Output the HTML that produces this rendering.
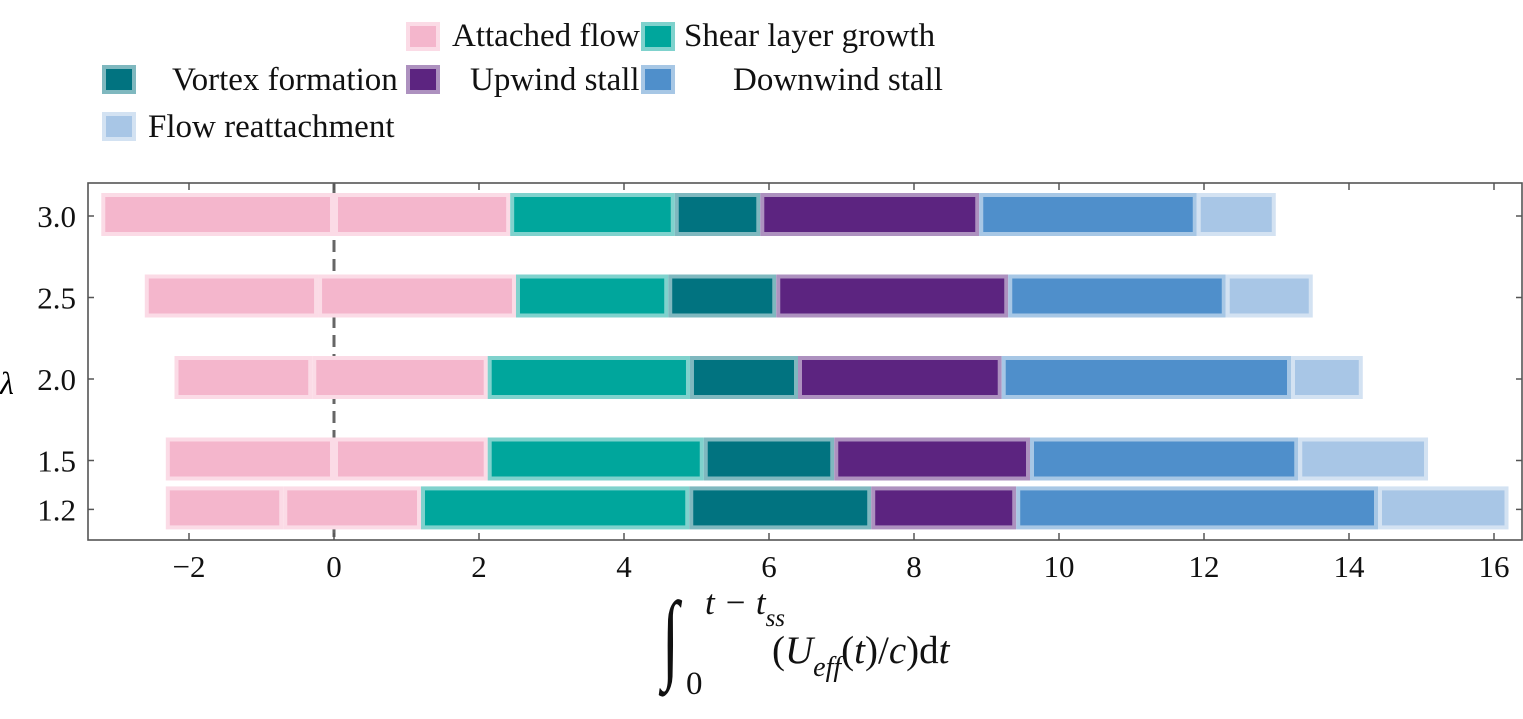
<!DOCTYPE html>
<html><head><meta charset="utf-8"><style>
body{margin:0;background:#fff}
svg{display:block;font-family:"Liberation Serif",serif}
</style></head><body>
<svg id="c" width="1523" height="719" viewBox="0 0 1523 719">
<g id="legend"></g>
<g id="plot"></g>
<text x="0" y="394" font-size="32" font-style="italic">λ</text>
<g fill="#111">
<text x="0" y="0" font-size="62" transform="translate(662,670) scale(1,1.6)">∫</text>
<text x="686" y="694" font-size="33">0</text>
<text x="705" y="614" font-size="35" font-style="italic">t − t<tspan font-size="25" dy="12">ss</tspan></text>
<text x="772" y="663" font-size="39">(<tspan font-style="italic">U</tspan><tspan font-style="italic" font-size="28" dy="13">eff</tspan><tspan dy="-13">(</tspan><tspan font-style="italic">t</tspan>)/<tspan font-style="italic">c</tspan>)d<tspan font-style="italic">t</tspan></text>
</g>
</svg>
<script>
const lambdas=[3.0,2.5,2.0,1.5,1.2];
const starts=[-3.21,-2.61,-2.2,-2.32,-2.32];
const attachedSplit=[0,-0.22,-0.3,0,-0.7];
const shearStart=[2.43,2.51,2.12,2.12,1.2];
const vortexStart=[4.7,4.61,4.91,5.1,4.9];
const upwindStart=[5.88,6.1,6.4,6.9,7.41];
const downwindStart=[8.9,9.3,9.21,9.6,9.41];
const reattachStart=[11.9,12.3,13.2,13.3,14.4];
const ends=[12.99,13.5,14.19,15.09,16.2];
const xTicks=[-2,0,2,4,6,8,10,12,14,16];
const xTickLabels=["−2","0","2","4","6","8","10","12","14","16"];
const yTickLabels=["3.0","2.5","2.0","1.5","1.2"];
const phases=[["attached-flow","Attached flow","#f4b6cc","#fbdbe6"],["shear-layer-growth","Shear layer growth","#00a69c","#7fd2cd"],["vortex-formation","Vortex formation","#017380","#7fb8bf"],["upwind-stall","Upwind stall","#5c2480","#ad91bf"],["downwind-stall","Downwind stall","#4f8fcb","#a7c7e5"],["flow-reattachment","Flow reattachment","#a8c6e6","#d3e2f2"]];
const NS="http://www.w3.org/2000/svg";
const L=88,R=1522,T=183,B=540;
const X=v=>334+v*72.5;
const Y=l=>216+(3-l)*163;
function mk(tag,attrs,parent){const e=document.createElementNS(NS,tag);for(const k in attrs)e.setAttribute(k,attrs[k]);parent.appendChild(e);return e;}
const plot=document.getElementById('plot');
const fr=mk('rect',{x:L,y:T,width:R-L,height:B-T,fill:'none',stroke:'#555','stroke-width':1.6},plot);


const zl=mk('line',{x1:X(0),x2:X(0),y1:T,y2:B,stroke:'#666','stroke-width':3,'stroke-dasharray':'12,7'},plot);


function seg(i,a,b,p,name){
  const y=Y(lambdas[i]);
  const r=mk('rect',{x:X(a)+2,y:y-21,width:X(b)-X(a)-4,height:39,fill:p[2],stroke:p[3],'stroke-width':4},plot);
  
  
}
lambdas.forEach((l,i)=>{
  const tag='-'+String(l).replace('.','-');
  seg(i,starts[i],attachedSplit[i],phases[0],'attached-flow-bar-a'+tag);
  seg(i,attachedSplit[i],shearStart[i],phases[0],'attached-flow-bar-b'+tag);
  seg(i,shearStart[i],vortexStart[i],phases[1],'shear-layer-bar'+tag);
  seg(i,vortexStart[i],upwindStart[i],phases[2],'vortex-formation-bar'+tag);
  seg(i,upwindStart[i],downwindStart[i],phases[3],'upwind-stall-bar'+tag);
  seg(i,downwindStart[i],reattachStart[i],phases[4],'downwind-stall-bar'+tag);
  seg(i,reattachStart[i],ends[i],phases[5],'flow-reattachment-bar'+tag);
  const yy=Y(l);
  mk('line',{x1:L,x2:L+6,y1:yy,y2:yy,stroke:'#555','stroke-width':1.5},plot);
  mk('line',{x1:R-6,x2:R,y1:yy,y2:yy,stroke:'#555','stroke-width':1.5},plot);
  const t=mk('text',{x:L-12,y:yy+11,'font-size':31,'text-anchor':'end',fill:'#111'},plot);
  t.textContent=yTickLabels[i];
  
  
});
xTicks.forEach((v,i)=>{
  const x=X(v);
  mk('line',{x1:x,x2:x,y1:B-7,y2:B,stroke:'#555','stroke-width':1.5},plot);
  mk('line',{x1:x,x2:x,y1:T,y2:T+7,stroke:'#555','stroke-width':1.5},plot);
  const t=mk('text',{x:x,y:B+37,'font-size':31,'text-anchor':'middle',fill:'#111'},plot);
  t.textContent=xTickLabels[i];
  
  
});
const lg=document.getElementById('legend');
const lpos=[[406,36],[641,36],[102,79],[406,79],[641,79],[102,126]];
const tpos=[[452,46],[684,46],[172,90],[470,90],[733,90],[148,137]];
phases.forEach((p,i)=>{
  const g=mk('g',{},lg);
  
  
  mk('rect',{x:lpos[i][0]+2,y:lpos[i][1]-12,width:30,height:25,fill:p[2],stroke:p[3],'stroke-width':4},g);
  const t=mk('text',{x:tpos[i][0],y:tpos[i][1],'font-size':33,fill:'#111'},g);
  t.textContent=p[1];
});
</script>
</body></html>
